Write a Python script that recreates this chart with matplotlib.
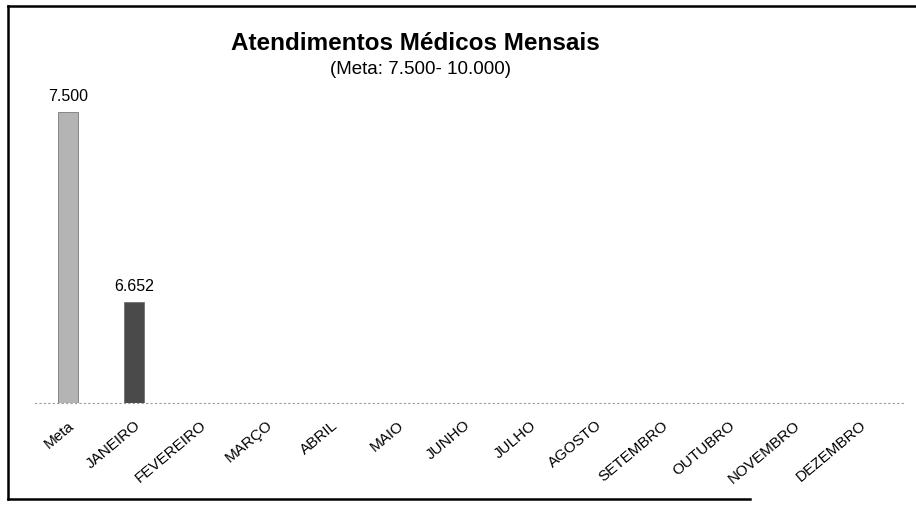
import matplotlib
matplotlib.use("Agg")
import matplotlib.pyplot as plt
from matplotlib.lines import Line2D

# Dados
categorias = ['Meta', 'JANEIRO', 'FEVEREIRO', 'MARÇO', 'ABRIL', 'MAIO', 'JUNHO',
              'JULHO', 'AGOSTO', 'SETEMBRO', 'OUTUBRO', 'NOVEMBRO', 'DEZEMBRO']
valores = [7500, 6652]
rotulos = ['7.500', '6.652']
cores = ['#b4b4b4', '#4a4a4a']

plt.rcParams['font.family'] = ['Liberation Sans', 'DejaVu Sans']

W, H = 916, 508
fig = plt.figure(figsize=(W / 100, H / 100), dpi=100)
ax = fig.add_axes([35 / W, (H - 403) / H, (905 - 35) / W, 303 / H])

x = list(range(len(categorias)))
ax.bar(x[:len(valores)], valores, width=0.3, color=cores,
       edgecolor='#666666', linewidth=0.5)
for xi, v, r in zip(x, valores, rotulos):
    ax.text(xi, v + 35, r, ha='center', va='bottom', fontsize=11.5)

ax.set_xlim(-0.5, 12.68)
ax.set_ylim(6200, 7555)
ax.set_yticks([])
ax.set_xticks(x)
ax.set_xticklabels(categorias, rotation=40, ha='right', va='top',
                   rotation_mode='anchor', fontsize=11)
ax.tick_params(axis='x', length=0, pad=11)
for s in ['top', 'right', 'left']:
    ax.spines[s].set_visible(False)
ax.spines['bottom'].set_linestyle((0, (1, 3)))
ax.spines['bottom'].set_color('#999999')
ax.spines['bottom'].set_linewidth(0.8)

# Titulo
fig.text(415 / W, 1 - 44 / H, 'Atendimentos Médicos Mensais',
         ha='center', va='center', fontsize=17.5, fontweight='bold')
fig.text(420 / W, 1 - 69 / H, '(Meta: 7.500- 10.000)',
         ha='center', va='center', fontsize=13.5)

# Moldura
fig.add_artist(Line2D([8 / W, 1.0], [1 - 6 / H, 1 - 6 / H], color='black', lw=1.8))
fig.add_artist(Line2D([8 / W, 8 / W], [1 - 6 / H, 1 - 499 / H], color='black', lw=1.8))
fig.add_artist(Line2D([8 / W, 750 / W], [1 - 499 / H, 1 - 499 / H], color='black', lw=1.8))

fig.savefig('out.png', dpi=100)
